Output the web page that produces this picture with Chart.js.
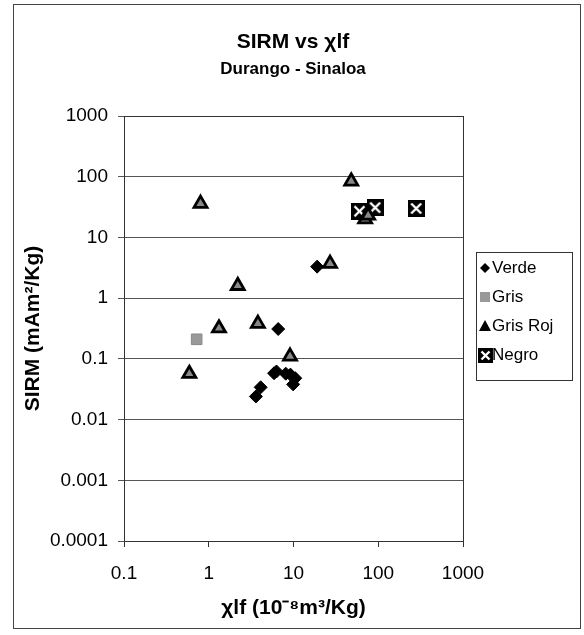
<!DOCTYPE html>
<html>
<head>
<meta charset="utf-8">
<title>SIRM vs χlf</title>
<script src="https://cdn.jsdelivr.net/npm/chart.js@4.4.1/dist/chart.umd.min.js"></script>
<style>
  html, body { margin: 0; padding: 0; background: #fff; }
  #wrap { width: 584px; height: 635px; }
</style>
</head>
<body>
<div id="wrap"><canvas id="chart" width="584" height="635"></canvas></div>
<script>
const FONT = "'Liberation Sans', Arial, Helvetica, sans-serif";

// axis ticks (decades only)
const xTicks = [0.1, 1, 10, 100, 1000];
const xTickLabels = ['0.1', '1', '10', '100', '1000'];
const yTicks = [0.0001, 0.001, 0.01, 0.1, 1, 10, 100, 1000];
const yTickLabels = ['0.0001', '0.001', '0.01', '0.1', '1', '10', '100', '1000'];

const seriesNames = ['Verde', 'Gris', 'Gris Roj', 'Negro'];

// χlf (10^-8 m3/Kg) and SIRM (mAm2/Kg) per group
const verdeX = [3.6, 4.1, 5.9, 6.3, 8.1, 9.2, 9.9, 10.5, 6.6, 19];
const verdeY = [0.024, 0.034, 0.058, 0.062, 0.057, 0.055, 0.038, 0.048, 0.31, 3.3];

const grisX = [0.72];
const grisY = [0.21];

const grisRojX = [0.59, 0.8, 1.32, 2.2, 3.8, 9.1, 27, 48, 70, 76];
const grisRojY = [0.057, 36, 0.32, 1.6, 0.38, 0.11, 3.7, 84, 20, 23];

const negroX = [60, 92, 280];
const negroY = [27, 31, 30];

const toPoints = (xs, ys) => xs.map((x, i) => ({ x: x, y: ys[i] }));

// black square with a white cross
function negroMarker(size) {
  const c = document.createElement('canvas');
  c.width = size;
  c.height = size;
  const g = c.getContext('2d');
  g.fillStyle = '#000';
  g.fillRect(0, 0, size, size);
  g.strokeStyle = '#fff';
  g.lineWidth = 2.4;
  const m = 3.5;
  g.beginPath();
  g.moveTo(m, m); g.lineTo(size - m, size - m);
  g.moveTo(size - m, m); g.lineTo(m, size - m);
  g.stroke();
  return c;
}
const negroImg = negroMarker(17);
const negroLegendImg = negroMarker(15);

// titles, outer frame and plot box
const framePlugin = {
  id: 'frame',
  beforeDatasetsDraw(chart) {
    const { ctx, chartArea: a } = chart;
    ctx.save();
    ctx.strokeStyle = '#333';
    ctx.lineWidth = 1;
    ctx.strokeRect(Math.round(a.left) + 0.5, Math.round(a.top) + 0.5,
      Math.round(a.right - a.left), Math.round(a.bottom - a.top));
    ctx.restore();
  },
  afterDraw(chart) {
    const ctx = chart.ctx;
    ctx.save();
    ctx.strokeStyle = '#444';
    ctx.lineWidth = 1;
    ctx.strokeRect(13.5, 4.5, 567, 624);
    ctx.fillStyle = '#000';
    ctx.textAlign = 'center';
    ctx.textBaseline = 'middle';
    ctx.font = 'bold 21px ' + FONT;
    ctx.fillText('SIRM vs χlf', 293, 42);
    ctx.font = 'bold 17px ' + FONT;
    ctx.fillText('Durango - Sinaloa', 293, 69);
    ctx.restore();
  }
};

// legend box on the right
const legendPlugin = {
  id: 'sideLegend',
  afterDraw(chart) {
    const ctx = chart.ctx;
    const box = { x: 476, y: 252, w: 96, h: 128 };
    const rows = [268, 297, 326, 355];
    ctx.save();
    ctx.strokeStyle = '#333';
    ctx.lineWidth = 1;
    ctx.strokeRect(box.x + 0.5, box.y + 0.5, box.w, box.h);
    ctx.font = '17px ' + FONT;
    ctx.textBaseline = 'middle';
    ctx.textAlign = 'left';
    ctx.fillStyle = '#000';
    const mx = 485;
    seriesNames.forEach((name, i) => {
      const y = rows[i];
      ctx.save();
      if (i === 0) {
        ctx.fillStyle = '#000';
        ctx.beginPath();
        ctx.moveTo(mx, y - 5); ctx.lineTo(mx + 5, y); ctx.lineTo(mx, y + 5); ctx.lineTo(mx - 5, y);
        ctx.closePath();
        ctx.fill();
      } else if (i === 1) {
        ctx.fillStyle = '#999';
        ctx.fillRect(mx - 5, y - 5, 10, 10);
      } else if (i === 2) {
        ctx.fillStyle = '#000';
        ctx.beginPath();
        ctx.moveTo(mx, y - 6); ctx.lineTo(mx + 6, y + 5); ctx.lineTo(mx - 6, y + 5);
        ctx.closePath();
        ctx.fill();
      } else {
        ctx.drawImage(negroLegendImg, mx - 7, y - 7);
      }
      ctx.restore();
      ctx.fillText(name, 492, y);
    });
    ctx.restore();
  }
};

new Chart(document.getElementById('chart'), {
  type: 'scatter',
  data: {
    datasets: [
      {
        label: seriesNames[0],
        data: toPoints(verdeX, verdeY),
        pointStyle: 'rectRot',
        pointRadius: 6.5,
        backgroundColor: '#000',
        borderColor: '#000',
        borderWidth: 1
      },
      {
        label: seriesNames[1],
        data: toPoints(grisX, grisY),
        pointStyle: 'rect',
        pointRadius: 7.5,
        backgroundColor: '#999',
        borderColor: '#888',
        borderWidth: 1
      },
      {
        label: seriesNames[2],
        data: toPoints(grisRojX, grisRojY),
        pointStyle: 'triangle',
        pointRadius: 7.5,
        backgroundColor: '#888',
        borderColor: '#000',
        borderWidth: 2.8
      },
      {
        label: seriesNames[3],
        data: toPoints(negroX, negroY),
        pointStyle: negroImg,
        pointRadius: 9
      }
    ]
  },
  options: {
    responsive: false,
    animation: false,
    layout: { padding: { top: 116, right: 121, bottom: 0, left: 0 } },
    plugins: {
      legend: { display: false },
      title: { display: false },
      tooltip: { enabled: false }
    },
    scales: {
      x: {
        type: 'logarithmic',
        min: 0.1,
        max: 1000,
        afterFit(scale) { scale.height = 94; },
        afterBuildTicks(scale) { scale.ticks = xTicks.map(v => ({ value: v })); },
        ticks: {
          font: { family: FONT, size: 19 },
          color: '#000',
          padding: 15,
          maxRotation: 0,
          autoSkip: false,
          callback: (v, i) => xTickLabels[i]
        },
        grid: { drawOnChartArea: false, tickLength: 6, color: '#333' },
        border: { color: '#333' },
        title: {
          display: true,
          text: 'χlf (10⁻⁸m³/Kg)',
          font: { family: FONT, size: 21, weight: 'bold' },
          color: '#000',
          padding: { top: 0, bottom: 14 }
        }
      },
      y: {
        type: 'logarithmic',
        min: 0.0001,
        max: 1000,
        afterFit(scale) { scale.width = 124; },
        afterBuildTicks(scale) { scale.ticks = yTicks.map(v => ({ value: v })); },
        ticks: {
          font: { family: FONT, size: 19 },
          color: '#000',
          padding: 10,
          autoSkip: false,
          callback: (v, i) => yTickLabels[i]
        },
        grid: { color: '#555', tickLength: 6 },
        border: { color: '#333' },
        title: {
          display: true,
          text: 'SIRM (mAm²/Kg)',
          font: { family: FONT, size: 21, weight: 'bold' },
          color: '#000',
          padding: { top: 21, bottom: 0 }
        }
      }
    }
  },
  plugins: [framePlugin, legendPlugin]
});
</script>
</body>
</html>
